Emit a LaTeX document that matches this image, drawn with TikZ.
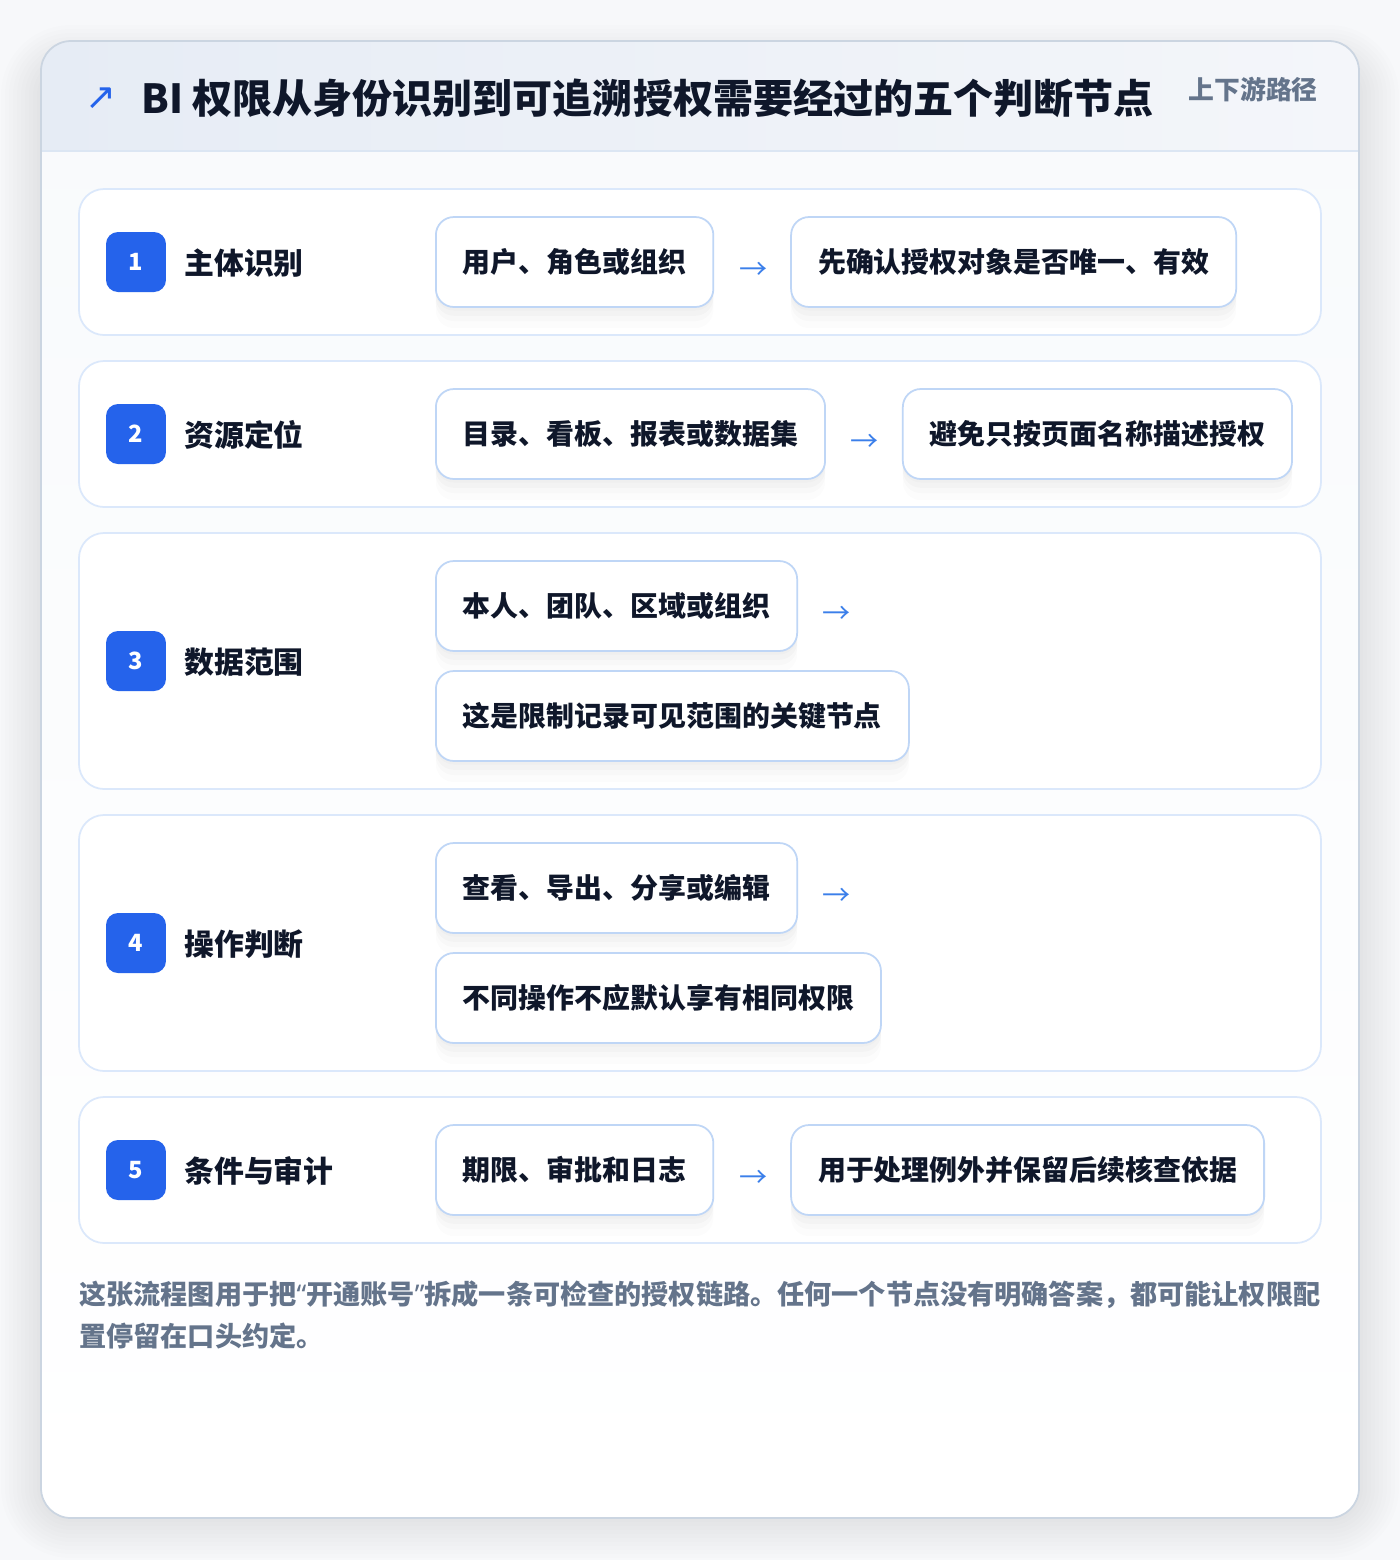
\documentclass[tikz,border=0pt]{standalone}
\usepackage{fontspec}
\setmainfont{Noto Sans CJK SC}
\newfontfamily\symfont{DejaVu Sans}
\newfontfamily\latinfont{Noto Sans}
\usetikzlibrary{positioning}
\definecolor{pagebg}{HTML}{F7F8FA}
\definecolor{cardtop}{HTML}{F8FAFC}
\definecolor{cardline}{HTML}{CBD5E1}
\definecolor{headl}{HTML}{E6ECF5}
\definecolor{headr}{HTML}{F4F6FA}
\definecolor{headline}{HTML}{DCE6F3}
\definecolor{rowline}{HTML}{DBE8FB}
\definecolor{boxline}{HTML}{BFD6F6}
\definecolor{ink}{HTML}{0F172A}
\definecolor{muted}{HTML}{64748B}
\definecolor{badge}{HTML}{2563EB}
\definecolor{arrowblue}{HTML}{3B7FEA}

\begin{document}
\begin{tikzpicture}[x=0.02cm,y=-0.02cm]
    \tikzstyle rowbox=[draw=rowline,line width=1pt,fill=white,rounded corners=0.5cm]
    \tikzstyle stepbadge=[fill=badge,rounded corners=0.24cm,minimum size=1.2cm,inner sep=0pt,text=white,font=\bfseries\fontsize{13.5pt}{15pt}\selectfont]
    \tikzstyle steplabel=[anchor=west,inner sep=0pt,text=ink,font=\bfseries\fontsize{17pt}{20pt}\selectfont]
    \tikzstyle infobox=[draw=boxline,line width=1pt,fill=white,rounded corners=0.36cm,minimum height=1.8cm,inner xsep=0.54cm,anchor=west,text=ink,font=\bfseries\fontsize{15.9pt}{19pt}\selectfont,
      preaction={fill=black,fill opacity=0.012,transform canvas={yshift=-12pt}},
      preaction={fill=black,fill opacity=0.016,transform canvas={yshift=-8pt}},
      preaction={fill=black,fill opacity=0.018,transform canvas={yshift=-5pt}},
      preaction={fill=black,fill opacity=0.015,transform canvas={yshift=-2pt}}]
    \tikzstyle flowarrow=[text=arrowblue,inner sep=0pt,font=\fontsize{16pt}{18pt}\selectfont]
    \tikzstyle notetext=[anchor=west,inner sep=0pt,text=muted,font=\bfseries\fontsize{15.45pt}{18pt}\selectfont]

    \useasboundingbox (0,0) rectangle (1400,1560);
    \fill[pagebg] (0,0) rectangle (1400,1560);

    \foreach \s in {4,8,...,40}
      \fill[black,opacity=0.006,rounded corners=0.6cm+\s*0.02cm] (41-\s,41-\s+24) rectangle (1359+\s,1518+\s);
    \fill[top color=cardtop,bottom color=white,rounded corners=0.6cm] (41,41) rectangle (1359,1518);
    \begin{scope}
      \clip[rounded corners=0.6cm] (41,41) rectangle (1359,1518);
      \shade[left color=headl,right color=headr] (41,41) rectangle (1359,151);
    \end{scope}
    \draw[headline,line width=1pt] (41,151) -- (1359,151);
    \draw[cardline,line width=1pt,rounded corners=0.6cm] (41,41) rectangle (1359,1518);

    \node[text=badge,inner sep=0pt,font=\symfont\fontsize{21pt}{24pt}\selectfont] (icon) at (101,99) {↗};
    \node[anchor=west,inner sep=0pt,text=ink,font=\bfseries\fontsize{22.8pt}{26pt}\selectfont] (title) at (141,98) {BI 权限从身份识别到可追溯授权需要经过的五个判断节点};
    \node[anchor=east,inner sep=0pt,text=muted,font=\bfseries\fontsize{14.7pt}{17pt}\selectfont] (tag) at (1318,90) {上下游路径};

    \draw[rowbox] (79,189) rectangle (1321,335);
    \node[stepbadge] (b1) at (136,262) {1};
    \node[steplabel] (l1) at (184,263) {主体识别};
    \node[infobox] (r1a) at (435,262) {用户、角色或组织};
    \node[flowarrow] (r1arr) at ([xshift=0.78cm,yshift=-0.17cm]r1a.east) {→};
    \node[infobox,right=1.52cm of r1a] (r1b) {先确认授权对象是否唯一、有效};

    \draw[rowbox] (79,361) rectangle (1321,507);
    \node[stepbadge] (b2) at (136,434) {2};
    \node[steplabel] (l2) at (184,435) {资源定位};
    \node[infobox] (r2a) at (435,434) {目录、看板、报表或数据集};
    \node[flowarrow] (r2arr) at ([xshift=0.78cm,yshift=-0.17cm]r2a.east) {→};
    \node[infobox,right=1.52cm of r2a] (r2b) {避免只按页面名称描述授权};

    \draw[rowbox] (79,533) rectangle (1321,789);
    \node[stepbadge] (b3) at (136,661) {3};
    \node[steplabel] (l3) at (184,662) {数据范围};
    \node[infobox] (r3a) at (435,606) {本人、团队、区域或组织};
    \node[flowarrow] (r3arr) at ([xshift=0.78cm,yshift=-0.17cm]r3a.east) {→};
    \node[infobox] (r3b) at (435,716) {这是限制记录可见范围的关键节点};

    \draw[rowbox] (79,815) rectangle (1321,1071);
    \node[stepbadge] (b4) at (136,943) {4};
    \node[steplabel] (l4) at (184,944) {操作判断};
    \node[infobox] (r4a) at (435,888) {查看、导出、分享或编辑};
    \node[flowarrow] (r4arr) at ([xshift=0.78cm,yshift=-0.17cm]r4a.east) {→};
    \node[infobox] (r4b) at (435,998) {不同操作不应默认享有相同权限};

    \draw[rowbox] (79,1097) rectangle (1321,1243);
    \node[stepbadge] (b5) at (136,1170) {5};
    \node[steplabel] (l5) at (184,1171) {条件与审计};
    \node[infobox] (r5a) at (435,1170) {期限、审批和日志};
    \node[flowarrow] (r5arr) at ([xshift=0.78cm,yshift=-0.17cm]r5a.east) {→};
    \node[infobox,right=1.52cm of r5a] (r5b) {用于处理例外并保留后续核查依据};

    \node[notetext] (note1) at (79,1295) {这张流程图用于把{\latinfont “}开通账号{\latinfont ”}拆成一条可检查的授权链路。任何一个节点没有明确答案，都可能让权限配};
    \node[notetext] (note2) at (79,1336) {置停留在口头约定。};
\end{tikzpicture}
\end{document}
